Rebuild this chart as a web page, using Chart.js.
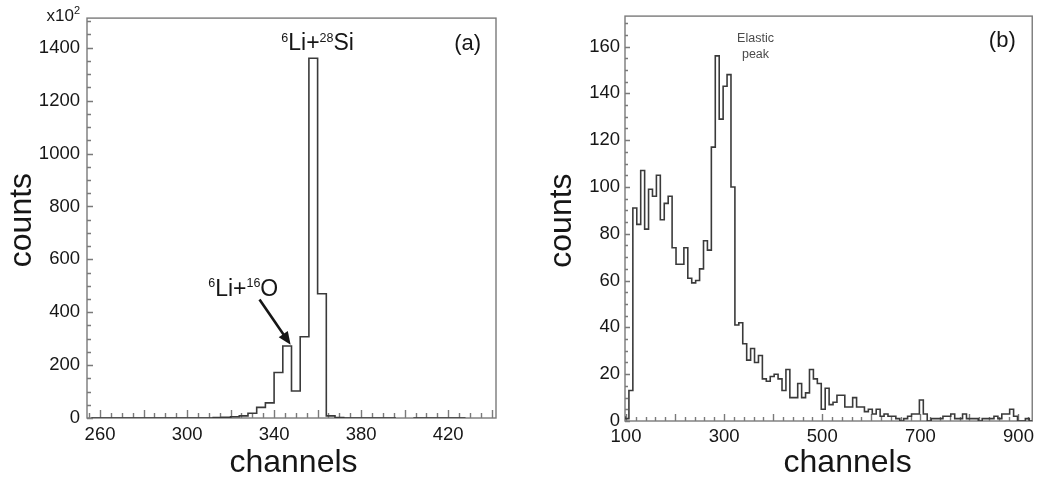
<!DOCTYPE html>
<html>
<head>
<meta charset="utf-8">
<script src="https://cdn.jsdelivr.net/npm/chart.js@4.4.1/dist/chart.umd.min.js"></script>
<style>
  body { margin: 0; background: #fff; }
  .panel { position: absolute; top: 0; height: 486px; }
  #panelA { left: 0; width: 520px; }
  #panelB { left: 520px; width: 519px; }
</style>
</head>
<body>
<div class="panel" id="panelA"><canvas id="spectrumA"></canvas></div>
<div class="panel" id="panelB"><canvas id="spectrumB"></canvas></div>
<script>
// (a) spectrum, counts in units of 10^2, 4-channel bins from channel 256
const binStartA = 256;
const binWidthA = 4;
const countsA = [
  0, 0, 0, 0, 0, 0, 0, 0, 0, 0, 0, 0, 0, 0, 0,
  2, 3, 5, 8, 18, 40, 57, 172, 272, 102, 307, 1360, 470, 8, 2,
  0, 0, 0, 0, 0, 0,
  null,
  0, 0, 0, 0, 0, 0
];
const xLabelsA = [260, 300, 340, 380, 420];
const yLabelsA = [0, 200, 400, 600, 800, 1000, 1200, 1400];

// (b) spectrum, 8-channel bins from channel 98
const binStartB = 98;
const binWidthB = 8;
const countsB = [
  2, 1, 13, 91, 84, 107, 82, 99, 96, 105,
  86, 93, 96, 74, 67, 67, 74, 61, 59, 60,
  65, 77, 73, 117, 156, 129, 143, 148, 100, 41,
  42, 33, 26, 31, 25, 28, 18, 17, 19, 20,
  18, 13, 22, 10, 10, 16, 10, 12, 22, 18,
  16, 5, 14, 7, 8, 11, 11, 6, 6, 10,
  6, 6, 4, 5, 3, 5, 2, 3, 2, 2,
  1, 0, 1, 2, 3, 3, 9, 3, 0, 1,
  1, 1, 2, 2, 3, 1, 1, 3, 1, 1,
  1, 0, 1, 1, 1, 2, 1, 3, 3, 5,
  2, 0, 0, 1
];
const xLabelsB = [100, 300, 500, 700, 900];
const yLabelsB = [0, 20, 40, 60, 80, 100, 120, 140, 160];

const FONT = "'Liberation Sans', Arial, Helvetica, sans-serif";
const INK = '#161616';

// bin edges -> stepped outline points
function outline(start, width, counts) {
  const pts = counts.map((c, i) => ({ x: start + i * width, y: c }));
  pts.push({ x: start + counts.length * width, y: 0 });
  return pts;
}

// box frame with inward ticks
const frameTicks = {
  id: 'frameTicks',
  beforeDatasetsDraw(chart, args, o) {
    const { ctx, chartArea: a, scales: { x, y } } = chart;
    ctx.save();
    ctx.strokeStyle = '#7a7a7a';
    ctx.lineWidth = 1.4;
    ctx.strokeRect(a.left, a.top, a.right - a.left, a.bottom - a.top);
    ctx.beginPath();
    for (let v = o.xFrom; v <= x.max; v += o.xMinor) {
      const px = Math.round(x.getPixelForValue(v)) + 0.5;
      if (px <= a.left + 1 || px >= a.right - 1) continue;
      const len = v % o.xMajor === 0 ? o.xLong : o.xShort;
      ctx.moveTo(px, a.bottom);
      ctx.lineTo(px, a.bottom - len);
    }
    for (let v = 0; v <= y.max; v += o.yMinor) {
      const py = Math.round(y.getPixelForValue(v)) + 0.5;
      if (py <= a.top + 1) continue;
      const len = v % o.yMajor === 0 ? o.yLong : o.yShort;
      ctx.moveTo(a.left, py);
      ctx.lineTo(a.left + len, py);
    }
    ctx.stroke();
    ctx.restore();
  }
};

function drawIsotope(ctx, x, y, parts, big, small) {
  let cx = x;
  parts.forEach(([sup, main]) => {
    ctx.font = small + 'px ' + FONT;
    ctx.fillText(sup, cx, y - big * 0.36);
    cx += ctx.measureText(sup).width;
    ctx.font = big + 'px ' + FONT;
    ctx.fillText(main, cx, y);
    cx += ctx.measureText(main).width;
  });
}

// labels, arrow and axis titles
const notes = {
  id: 'notes',
  afterDraw(chart, args, o) {
    const { ctx, chartArea: a, scales: { x, y } } = chart;
    ctx.save();
    ctx.fillStyle = INK;
    ctx.strokeStyle = INK;
    ctx.textBaseline = 'alphabetic';
    ctx.textAlign = 'left';
    (o.isotopes || []).forEach(n => {
      drawIsotope(ctx, x.getPixelForValue(n.x), y.getPixelForValue(n.y), n.parts, 23, 12.5);
    });
    (o.arrows || []).forEach(ar => {
      const x0 = x.getPixelForValue(ar.from[0]), y0 = y.getPixelForValue(ar.from[1]);
      const x1 = x.getPixelForValue(ar.to[0]), y1 = y.getPixelForValue(ar.to[1]);
      const ang = Math.atan2(y1 - y0, x1 - x0);
      const head = 13;
      ctx.lineWidth = 2.6;
      ctx.beginPath();
      ctx.moveTo(x0, y0);
      ctx.lineTo(x1 - head * 0.8 * Math.cos(ang), y1 - head * 0.8 * Math.sin(ang));
      ctx.stroke();
      ctx.beginPath();
      ctx.moveTo(x1, y1);
      ctx.lineTo(x1 - head * Math.cos(ang) + 5.5 * Math.sin(ang), y1 - head * Math.sin(ang) - 5.5 * Math.cos(ang));
      ctx.lineTo(x1 - head * Math.cos(ang) - 5.5 * Math.sin(ang), y1 - head * Math.sin(ang) + 5.5 * Math.cos(ang));
      ctx.closePath();
      ctx.fill();
    });
    (o.texts || []).forEach(t => {
      ctx.font = t.font + 'px ' + FONT;
      ctx.fillStyle = t.color || INK;
      ctx.textAlign = 'center';
      ctx.textBaseline = 'middle';
      ctx.fillText(t.text, x.getPixelForValue(t.x), y.getPixelForValue(t.y));
    });
    // axis titles
    ctx.fillStyle = INK;
    ctx.font = '32px ' + FONT;
    ctx.textAlign = 'center';
    ctx.textBaseline = 'middle';
    ctx.fillText(o.xTitle, (a.left + a.right) / 2 + o.xTitleShift, 463);
    ctx.translate(a.left + o.yTitleOffset, (a.top + a.bottom) / 2 + 2);
    ctx.rotate(-Math.PI / 2);
    ctx.fillText(o.yTitle, 0, 0);
    ctx.restore();
    if (o.multiplier) {
      ctx.save();
      ctx.fillStyle = INK;
      ctx.textBaseline = 'alphabetic';
      ctx.textAlign = 'right';
      ctx.font = '11px ' + FONT;
      ctx.fillText('2', a.left - 7, 14);
      const w = ctx.measureText('2').width;
      ctx.font = '17px ' + FONT;
      ctx.fillText('x10', a.left - 7 - w, 21);
      ctx.restore();
    }
  }
};

function makeChart(id, cfg) {
  return new Chart(document.getElementById(id), {
    type: 'line',
    data: {
      datasets: [{
        data: cfg.points,
        stepped: 'after',
        borderColor: '#3a3a3a',
        borderWidth: 1.6,
        pointRadius: 0,
        fill: false,
        spanGaps: false
      }]
    },
    options: {
      responsive: true,
      maintainAspectRatio: false,
      animation: false,
      events: [],
      layout: { padding: { top: 9, right: cfg.padRight, left: 0, bottom: 0 } },
      scales: {
        x: {
          type: 'linear',
          min: cfg.xMin,
          max: cfg.xMax,
          afterBuildTicks: s => { s.ticks = cfg.xLabels.map(v => ({ value: v })); },
          afterFit: s => { s.height = cfg.xAxisHeight; },
          grid: { display: false, drawTicks: false },
          border: { display: false },
          ticks: {
            autoSkip: false,
            maxRotation: 0,
            padding: cfg.xPad,
            color: INK,
            font: { family: FONT, size: 18.5 },
            callback: v => String(v)
          }
        },
        y: {
          type: 'linear',
          min: 0,
          max: cfg.yMax,
          afterBuildTicks: s => { s.ticks = cfg.yLabels.map(v => ({ value: v })); },
          afterFit: s => { s.width = cfg.yAxisWidth; },
          grid: { display: false, drawTicks: false },
          border: { display: false },
          ticks: {
            padding: cfg.yPad,
            color: INK,
            font: { family: FONT, size: 18.5 },
            callback: v => String(v)
          }
        }
      },
      plugins: {
        legend: { display: false },
        tooltip: { enabled: false },
        frameTicks: cfg.ticks,
        notes: cfg.notes
      }
    },
    plugins: [frameTicks, notes]
  });
}

makeChart('spectrumA', {
  points: outline(binStartA, binWidthA, countsA),
  xMin: 254, xMax: 442, yMax: 1512,
  xLabels: xLabelsA, yLabels: yLabelsA,
  padRight: 24, xAxisHeight: 68, yAxisWidth: 87, xPad: 6, yPad: 7,
  ticks: { xFrom: 255, xMinor: 5, xMajor: 20, xLong: 8, xShort: 5,
           yMinor: 50, yMajor: 200, yLong: 6, yShort: 4 },
  notes: {
    xTitle: 'channels', xTitleShift: 2,
    yTitle: 'counts', yTitleOffset: -65,
    multiplier: true,
    isotopes: [
      { x: 343.3, y: 1390, parts: [['6', 'Li+'], ['28', 'Si']] },
      { x: 309.7, y: 463, parts: [['6', 'Li+'], ['16', 'O']] }
    ],
    arrows: [{ from: [333.3, 448], to: [347.6, 277] }],
    texts: [{ text: '(a)', x: 429, y: 1416, font: 22 }]
  }
});

makeChart('spectrumB', {
  points: outline(binStartB, binWidthB, countsB),
  xMin: 98, xMax: 928, yMax: 173,
  xLabels: xLabelsB, yLabels: yLabelsB,
  padRight: 2, xAxisHeight: 65, yAxisWidth: 105, xPad: 5, yPad: 5,
  ticks: { xFrom: 100, xMinor: 20, xMajor: 100, xLong: 7, xShort: 4,
           yMinor: 5, yMajor: 20, yLong: 5, yShort: 3 },
  notes: {
    xTitle: 'channels', xTitleShift: 19,
    yTitle: 'counts', yTitleOffset: -63,
    isotopes: [],
    arrows: [],
    texts: [
      { text: '(b)', x: 867, y: 162.4, font: 22 },
      { text: 'Elastic', x: 364, y: 163.2, font: 12.5, color: '#4a4a4a' },
      { text: 'peak', x: 364, y: 156.4, font: 12.5, color: '#4a4a4a' }
    ]
  }
});
</script>
</body>
</html>
